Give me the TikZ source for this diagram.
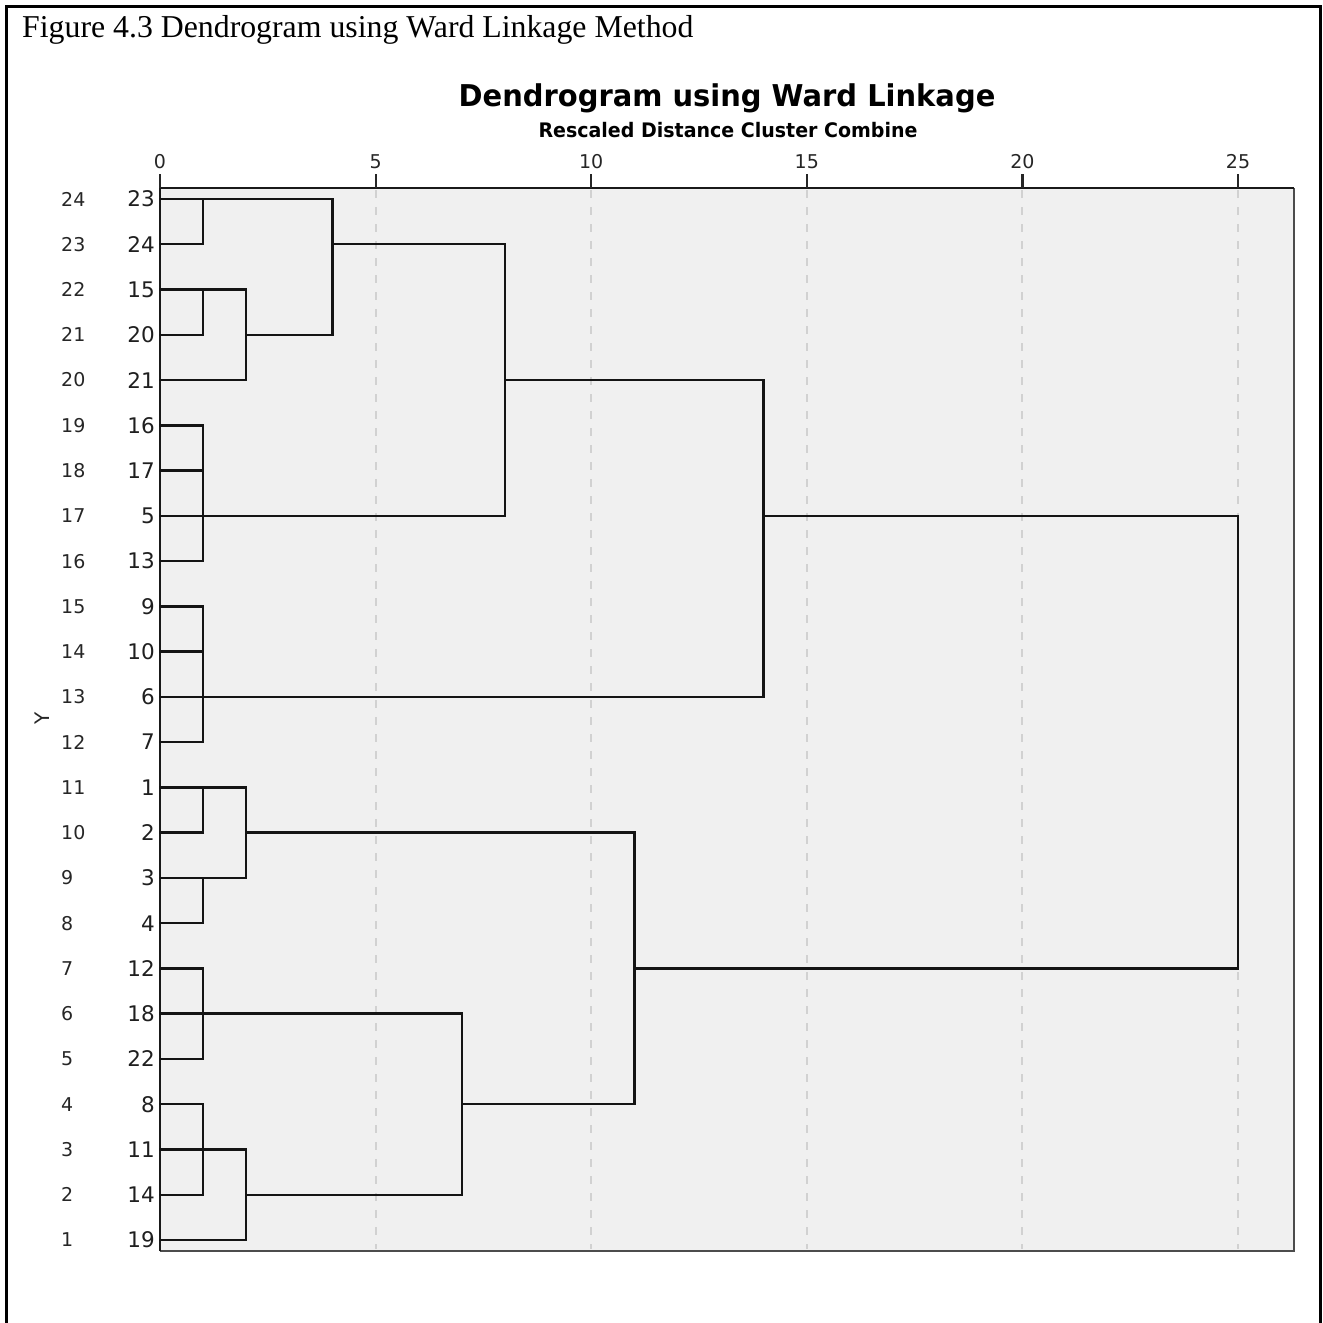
\documentclass[tikz,border=0pt]{standalone}
\usepackage{fontspec}
\setmainfont{Liberation Serif}
\newfontfamily\dv{DejaVu Sans}
\begin{document}
\begin{tikzpicture}[x=1pt,y=-1pt,
  dlink/.style={line width=2.4pt,color=black!92,line cap=rect,line join=miter},
  gridln/.style={line width=2pt,color=black!18,dash pattern=on 8pt off 9pt},
  tickln/.style={line width=2.2pt,color=black!85},
  ticklab/.style={font=\dv\fontsize{19}{22}\selectfont,color=black!85,anchor=base,inner sep=0pt},
  caselab/.style={font=\dv\fontsize{21.5}{25}\selectfont,color=black!88,anchor=east,inner sep=0pt},
  rowlab/.style={font=\dv\fontsize{19}{22}\selectfont,color=black!85,anchor=west,inner sep=0pt},
  frameln/.style={line width=3pt,color=black}]
\useasboundingbox (0,0) rectangle (1323,1323);
% outer figure frame
\draw[frameln] (6.5,1323) -- (6.5,6.5) -- (1320,6.5) -- (1320,1323);
\node[anchor=base west,inner sep=0pt,font=\fontsize{31.8}{36}\selectfont] (cap) at (22,37) {Figure 4.3 Dendrogram using Ward Linkage Method};
% chart titles
\node[anchor=base,inner sep=0pt] (ttl) at (727,106) {\scalebox{0.965}[1]{\dv\bfseries\fontsize{30}{36}\selectfont Dendrogram using Ward Linkage}};
\node[anchor=base,inner sep=0pt] (sub) at (728,137) {\scalebox{0.95}[1]{\dv\bfseries\fontsize{20}{24}\selectfont Rescaled Distance Cluster Combine}};
% plot area
\fill[black!6] (160,188) rectangle (1294,1251);
\foreach \u in {5,10,15,20,25}{
  \draw[gridln] ({160+43.12*\u},190) -- ({160+43.12*\u},1249);
}
\draw[line width=2pt,color=black!70] (1294,188) -- (1294,1251) -- (160,1251);
\draw[line width=2.6pt,color=black!90] (160,1251) -- (160,188) -- (1294,188);
\foreach \u in {0,5,10,15,20,25}{
  \draw[tickln] ({160+43.12*\u},174) -- ({160+43.12*\u},188);
  \node[ticklab] (t\u) at ({160+43.12*\u},168) {\u};
}
% Y axis label
\node[rotate=90,inner sep=0pt,font=\dv\fontsize{20}{22}\selectfont,color=black!85] (ylab) at (42,718) {Y};
% row labels
\foreach \c [count=\i from 0] in {23,24,15,20,21,16,17,5,13,9,10,6,7,1,2,3,4,12,18,22,8,11,14,19}{
  \pgfmathtruncatemacro{\r}{24-\i}
  \node[caselab] (c\i) at (155,{199+45.26*\i}) {\c};
  \node[rowlab] (l\i) at (61,{199+45.26*\i}) {\r};
}
% dendrogram
\begin{scope}[shift={(160,199)},x=43.12pt,y=-45.26pt]
\draw[dlink] (0,0) -- (4,0) -- (4,3) -- (2,3);
\draw[dlink] (0,1) -- (1,1) -- (1,0);
\draw[dlink] (4,1) -- (8,1) -- (8,7) -- (0,7);
\draw[dlink] (0,2) -- (2,2) -- (2,4) -- (0,4);
\draw[dlink] (1,2) -- (1,3) -- (0,3);
\draw[dlink] (8,4) -- (14,4) -- (14,11) -- (0,11);
\draw[dlink] (14,7) -- (25,7) -- (25,17) -- (11,17);
\draw[dlink] (0,5) -- (1,5) -- (1,8) -- (0,8);
\draw[dlink] (0,6) -- (1,6);
\draw[dlink] (0,9) -- (1,9) -- (1,12) -- (0,12);
\draw[dlink] (0,10) -- (1,10);
\draw[dlink] (0,13) -- (2,13) -- (2,15) -- (0,15);
\draw[dlink] (0,14) -- (1,14) -- (1,13);
\draw[dlink] (1,15) -- (1,16) -- (0,16);
\draw[dlink] (2,14) -- (11,14) -- (11,20) -- (7,20);
\draw[dlink] (0,17) -- (1,17) -- (1,19) -- (0,19);
\draw[dlink] (0,18) -- (7,18) -- (7,22) -- (2,22);
\draw[dlink] (0,20) -- (1,20) -- (1,22) -- (0,22);
\draw[dlink] (0,21) -- (2,21) -- (2,23) -- (0,23);
\end{scope}
\end{tikzpicture}
\end{document}
